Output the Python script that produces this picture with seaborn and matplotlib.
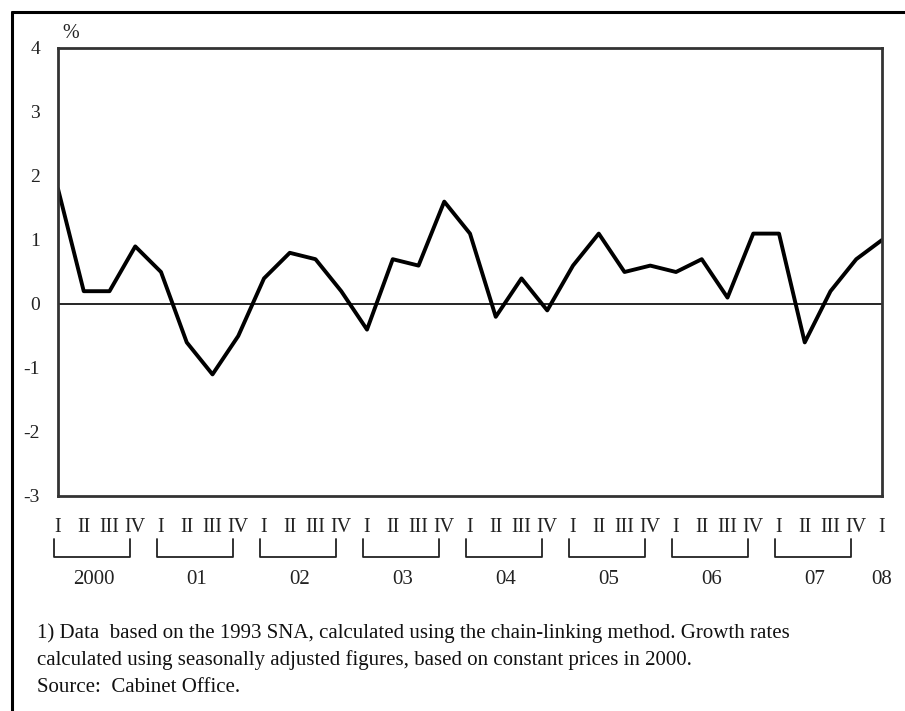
import matplotlib
matplotlib.use("Agg")
import matplotlib.pyplot as plt
import seaborn as sns
import pandas as pd
from matplotlib.lines import Line2D

# ---- data ----
years = ["2000", "01", "02", "03", "04", "05", "06", "07", "08"]
quarter_labels = ["I", "II", "III", "IV"]
growth = [1.8, 0.2, 0.2, 0.9,
          0.5, -0.6, -1.1, -0.5,
          0.4, 0.8, 0.7, 0.2,
          -0.4, 0.7, 0.6, 1.6,
          1.1, -0.2, 0.4, -0.1,
          0.6, 1.1, 0.5, 0.6,
          0.5, 0.7, 0.1, 1.1,
          1.1, -0.6, 0.2, 0.7,
          1.0]
y_ticks = [-3, -2, -1, 0, 1, 2, 3, 4]
footnote = ["1) Data  based on the 1993 SNA, calculated using the chain-linking method. Growth rates",
            "calculated using seasonally adjusted figures, based on constant prices in 2000.",
            "Source:  Cabinet Office."]

n = len(growth)
df = pd.DataFrame({"idx": list(range(n)), "growth": growth})
xlabels = [quarter_labels[i % 4] for i in range(n)]

sns.set_style("white")
plt.rcParams["font.family"] = ["Liberation Serif", "DejaVu Serif"]

W, H = 905, 711
fig = plt.figure(figsize=(W / 100, H / 100), dpi=100)
fig.patch.set_facecolor("white")

L, R, T, B = 58, 882, 48, 496
ax = fig.add_axes([L / W, 1 - B / H, (R - L) / W, (B - T) / H])

sns.lineplot(data=df, x="idx", y="growth", ax=ax, color="black", linewidth=2.8)
ax.axhline(0, color="black", linewidth=1.2, zorder=1)

ax.set_xlim(0, n - 1)
ax.set_ylim(-3, 4)
ax.set_xlabel("")
ax.set_ylabel("")
ax.set_yticks(y_ticks)
ax.set_yticklabels([str(v) for v in y_ticks], fontsize=14)
ax.set_xticks(list(range(n)))
ax.set_xticklabels(xlabels, fontsize=14.5)
ax.tick_params(axis="y", direction="in", length=5, width=1.5, pad=13, colors="#222222", labelcolor="#222222")
ax.tick_params(axis="x", direction="in", length=6, width=1.5, pad=16, colors="#222222", labelcolor="#222222")
for s in ax.spines.values():
    s.set_visible(True)
    s.set_color("#333333")
    s.set_linewidth(2.0)

fig.text(62 / W, 1 - 33 / H, "%", fontsize=14.5, ha="left", va="center", color="#222222")

# year brackets
tr = ax.get_xaxis_transform()
yb_top = (B - 539) / (B - T)
yb_bot = (B - 557) / (B - T)
y_year = (B - 579) / (B - T)
for k, yr in enumerate(years):
    i = 4 * k
    if k < len(years) - 1:
        x0, x1 = i - 0.15, i + 2.8
        ax.add_line(Line2D([x0, x0, x1, x1], [yb_top, yb_bot, yb_bot, yb_top], transform=tr,
                           color="#222222", linewidth=1.3, clip_on=False))
        ax.text(i + 1.4, y_year, yr, transform=tr, ha="center", va="center",
                fontsize=15, color="#222222")
    else:
        ax.text(i, y_year, yr, transform=tr, ha="center", va="center",
                fontsize=15, color="#222222")

# footnote
for j, line in enumerate(footnote):
    fig.text(37 / W, 1 - (633 + 27.5 * j) / H, line, fontsize=15, ha="left", va="center",
             color="#111111")

# outer frame lines (left and top)
fig.add_artist(Line2D([12 / W, 12 / W], [0, 1 - 12 / H], transform=fig.transFigure,
                      color="black", linewidth=2.2))
fig.add_artist(Line2D([12 / W, 1], [1 - 12 / H, 1 - 12 / H], transform=fig.transFigure,
                      color="black", linewidth=2.2))

fig.savefig("out.png", dpi=100)
